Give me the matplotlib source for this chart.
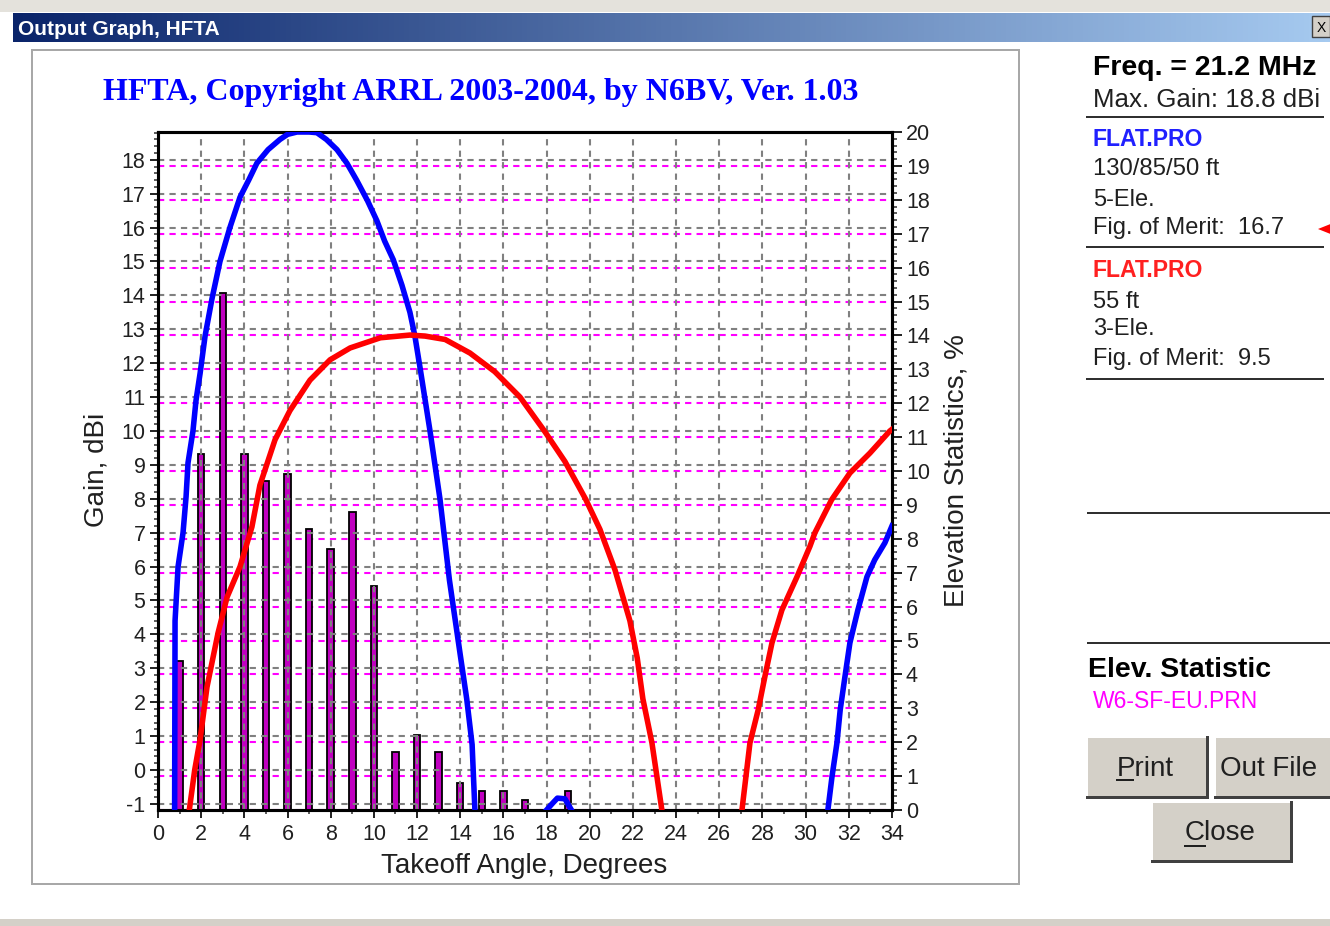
import matplotlib
matplotlib.use('Agg')
import matplotlib.pyplot as plt
import numpy as np
from matplotlib.ticker import MultipleLocator
from matplotlib.patches import Rectangle, Polygon

plt.rcParams['font.family'] = ['Liberation Sans', 'DejaVu Sans']
plt.rcParams['axes.unicode_minus'] = False

# ---------------- data ----------------
bar_angles = list(range(1, 20))
bar_pct = [4.4, 10.5, 15.25, 10.5, 9.7, 9.9, 8.3, 7.7, 8.8, 6.6,
           1.7, 2.2, 1.7, 0.8, 0.55, 0.55, 0.3, 0.0, 0.55]

blue1_x = [0.77, 0.79, 0.93, 1.16, 1.30, 1.39, 1.62, 1.76, 1.95, 2.18, 2.50, 2.87,
           3.33, 3.80, 4.20, 4.58, 5.10, 5.65, 6.00, 6.44, 7.00, 7.36, 7.80, 8.29,
           8.75, 9.20, 9.70, 10.14, 10.50, 10.90, 11.30, 11.67, 11.90, 12.13, 12.60,
           13.06, 13.50, 14.00, 14.30, 14.55, 14.62, 14.68]
blue1_gain = [-1.18, 4.4, 6.0, 7.0, 8.06, 9.06, 10.0, 10.9, 11.7, 12.8, 13.9, 15.0,
              16.0, 16.9, 17.4, 17.9, 18.3, 18.6, 18.75, 18.82, 18.82, 18.8, 18.6, 18.3,
              17.9, 17.4, 16.8, 16.2, 15.6, 15.05, 14.3, 13.5, 12.8, 11.9, 10.0,
              8.0, 5.6, 3.4, 2.1, 0.75, -0.3, -1.18]
blue2_x = [18.0, 18.25, 18.5, 18.85, 19.15]
blue2_gain = [-1.18, -1.0, -0.83, -0.85, -1.18]
blue3_x = [31.03, 31.22, 31.45, 31.6, 31.82, 32.05, 32.42, 32.84, 33.2, 33.67, 34.0]
blue3_gain = [-1.18, -0.2, 0.8, 1.77, 2.75, 3.75, 4.72, 5.7, 6.2, 6.7, 7.2]

red1_x = [1.45, 1.70, 1.95, 2.27, 2.78, 3.20, 3.80, 4.35, 4.72, 5.42, 6.11, 7.04,
          7.97, 8.90, 10.30, 11.67, 12.37, 13.30, 14.45, 15.60, 16.77, 17.90, 18.85,
          19.80, 20.47, 21.17, 21.86, 22.20, 22.46, 22.88, 23.34]
red1_gain = [-1.18, 0.0, 0.9, 2.45, 4.04, 5.1, 6.0, 7.17, 8.4, 9.74, 10.6, 11.5,
             12.1, 12.45, 12.75, 12.83, 12.8, 12.7, 12.3, 11.75, 11.0, 10.0, 9.1,
             8.0, 7.1, 5.9, 4.4, 3.3, 2.1, 0.8, -1.18]
red2_x = [27.05, 27.42, 27.8, 28.11, 28.44, 28.9, 29.6, 30.2, 30.43, 31.2, 32.05, 32.98, 33.9, 34.0]
red2_gain = [-1.18, 0.8, 1.77, 2.75, 3.75, 4.72, 5.7, 6.6, 7.0, 7.97, 8.76, 9.35, 10.0, 10.05]

x_ticks = list(range(0, 35, 2))
gain_ticks = list(range(-1, 19))
pct_ticks = list(range(0, 21))

title = "HFTA, Copyright ARRL 2003-2004, by N6BV, Ver. 1.03"

W, H = 1330, 926
fig = plt.figure(figsize=(W / 100, H / 100), dpi=100)
fig.patch.set_facecolor('white')

# ---------------- background / window chrome ----------------
bg = fig.add_axes([0, 0, 1, 1], zorder=-10)
bg.set_xlim(0, W)
bg.set_ylim(H, 0)
bg.axis('off')

px = 0.72  # points per pixel
bg.add_patch(Rectangle((0, 0), W, 12, color='#e4e2dc', lw=0))
bg.add_patch(Rectangle((0, 919), W, 7, color='#d4d0c8', lw=0))
grad = np.linspace(0, 1, 256).reshape(1, -1)
c0 = np.array([10, 36, 106]) / 255.0
c1 = np.array([166, 202, 240]) / 255.0
img = c0[None, None, :] * (1 - grad[..., None]) + c1[None, None, :] * grad[..., None]
bg.imshow(img, extent=(13, W, 42, 13), aspect='auto', zorder=1)
bg.text(18, 35, "Output Graph, HFTA", color='white', fontsize=15, fontweight='bold',
        family=['Liberation Sans Narrow', 'Liberation Sans'], va='baseline', zorder=2)
bg.add_patch(Rectangle((1312, 16), 18, 21, facecolor='#d4d0c8', edgecolor='#404040', lw=1, zorder=2))
bg.text(1321, 32, "X", fontsize=10, ha='center', va='baseline', zorder=3)

# panel frame
bg.add_patch(Rectangle((32, 50), 987, 834, facecolor='white', edgecolor='#a8a8a8', lw=2 * px, zorder=1))
bg.text(481, 100, title, color='#0000ff', fontsize=23, fontweight='bold',
        family=['Liberation Serif', 'DejaVu Serif'], ha='center', va='baseline', zorder=2)

# right info panel
def line(y, x0=1087, x1=1323):
    bg.plot([x0, x1], [y, y], color='#303030', lw=2 * px, zorder=2)

bg.text(1093, 75, "Freq. = 21.2 MHz", fontsize=20.5, fontweight='bold', va='baseline')
bg.text(1093, 107, "Max. Gain: 18.8 dBi", fontsize=18.6, va='baseline', color='#202020')
line(117)
bg.text(1093, 146, "FLAT.PRO", fontsize=16.6, fontweight='bold', color='#2020ff', va='baseline')
bg.text(1093, 175, "130/85/50 ft", fontsize=17.2, va='baseline', color='#202020')
bg.text(1093, 206, "5-Ele.", fontsize=17, va='baseline', color='#202020')
bg.text(1093, 234, "Fig. of Merit:  16.7", fontsize=17, va='baseline', color='#202020')
bg.add_patch(Polygon([(1318, 229), (1333, 223), (1333, 235)], closed=True, color='#ff0000', lw=0))
line(247)
bg.text(1093, 277, "FLAT.PRO", fontsize=16.6, fontweight='bold', color='#ff2020', va='baseline')
bg.text(1093, 308, "55 ft", fontsize=17, va='baseline', color='#202020')
bg.text(1093, 335, "3-Ele.", fontsize=17, va='baseline', color='#202020')
bg.text(1093, 365, "Fig. of Merit:  9.5", fontsize=17, va='baseline', color='#202020')
line(379)
line(513, 1088, 1330)
line(643, 1088, 1330)
bg.text(1088, 677, "Elev. Statistic", fontsize=20.5, fontweight='bold', va='baseline')
bg.text(1093, 708, "W6-SF-EU.PRN", fontsize=16.5, color='#ff00ff', va='baseline')


def button(x0, y0, x1, y1, label, tx, ul=None):
    bg.add_patch(Rectangle((x0, y0), x1 - x0, y1 - y0, facecolor='#d4d0c8', lw=0, zorder=2))
    bg.plot([x0, x1], [y0, y0], color='white', lw=2 * px, zorder=3)
    bg.plot([x0, x0], [y0, y1], color='white', lw=2 * px, zorder=3)
    bg.plot([x0, x1], [y1, y1], color='#404040', lw=3 * px, zorder=3)
    bg.plot([x1, x1], [y0, y1], color='#404040', lw=3 * px, zorder=3)
    bg.text(tx, (y0 + y1) / 2 + 9, label, fontsize=20, va='baseline', color='#202020', zorder=4)
    if ul:
        bg.plot([ul[0], ul[1]], [ul[2], ul[2]], color='#202020', lw=2 * px, zorder=4)


button(1087, 737, 1207, 797, "Print", 1117, (1117, 1133, 780))
button(1215, 737, 1345, 797, "Out File", 1220)
button(1152, 802, 1291, 861, "Close", 1185, (1185, 1205, 846))

# ---------------- main chart ----------------
ax = fig.add_axes([158 / W, (H - 810) / H, 734 / W, 678 / H])
ax2 = ax.twinx()
ax.set_zorder(2)
ax2.set_zorder(1)
ax.patch.set_visible(False)
ax2.patch.set_visible(True)
ax2.patch.set_facecolor('white')

ax.set_xlim(0, 34)
ax.set_ylim(-1.18, 18.82)
ax2.set_ylim(0, 20)

dash = (0, (3, 2.5))
ax.set_xticks(x_ticks)
ax.xaxis.set_minor_locator(MultipleLocator(1))
ax.set_yticks(gain_ticks)
ax.yaxis.set_minor_locator(MultipleLocator(0.2))
ax2.set_yticks(pct_ticks)
ax2.yaxis.set_minor_locator(MultipleLocator(0.2))

ax.grid(True, which='major', color='#808080', ls=dash, lw=1.5)
ax2.grid(True, axis='y', which='major', color='#ff00ff', ls=dash, lw=1.5)
ax2.set_axisbelow(True)

ax2.bar(bar_angles, bar_pct, width=0.3, color='#c000c0', edgecolor='black', lw=1.3, zorder=3)

lw_curve = 4.0
for xs, ys, c in [(blue1_x, blue1_gain, '#0000ff'), (blue2_x, blue2_gain, '#0000ff'),
                  (blue3_x, blue3_gain, '#0000ff'), (red1_x, red1_gain, '#ff0000'),
                  (red2_x, red2_gain, '#ff0000')]:
    ax.plot(xs, ys, color=c, lw=lw_curve, zorder=4, solid_joinstyle='round')

for a in (ax, ax2):
    for s in a.spines.values():
        s.set_linewidth(2.2)
        s.set_color('black')

ax.tick_params(axis='both', which='major', direction='out', length=6, width=1.4,
               labelsize=15.5, colors='#202020', pad=3)
ax.tick_params(axis='both', which='minor', direction='out', length=3, width=1.2, colors='#404040')
ax.tick_params(axis='x', which='major', pad=4)
ax.tick_params(axis='y', right=False, which='both')
ax.tick_params(axis='x', top=False, which='both')
ax2.tick_params(axis='y', which='major', direction='out', length=7, width=1.4,
                labelsize=15.5, colors='#202020', pad=3)
ax2.tick_params(axis='y', which='minor', direction='out', length=3.5, width=1.2, colors='#404040')

ax.set_xlabel("Takeoff Angle, Degrees", fontsize=20, color='#202020')
ax.xaxis.set_label_coords(0.4986, -0.064)
ax.set_ylabel("Gain, dBi", fontsize=20, color='#202020')
ax.yaxis.set_label_coords(-0.066, 0.501)
ax2.set_ylabel("Elevation Statistics, %", fontsize=20, color='#202020')
ax2.yaxis.set_label_coords(1.07, 0.501)

fig.savefig('out.png', dpi=100)
